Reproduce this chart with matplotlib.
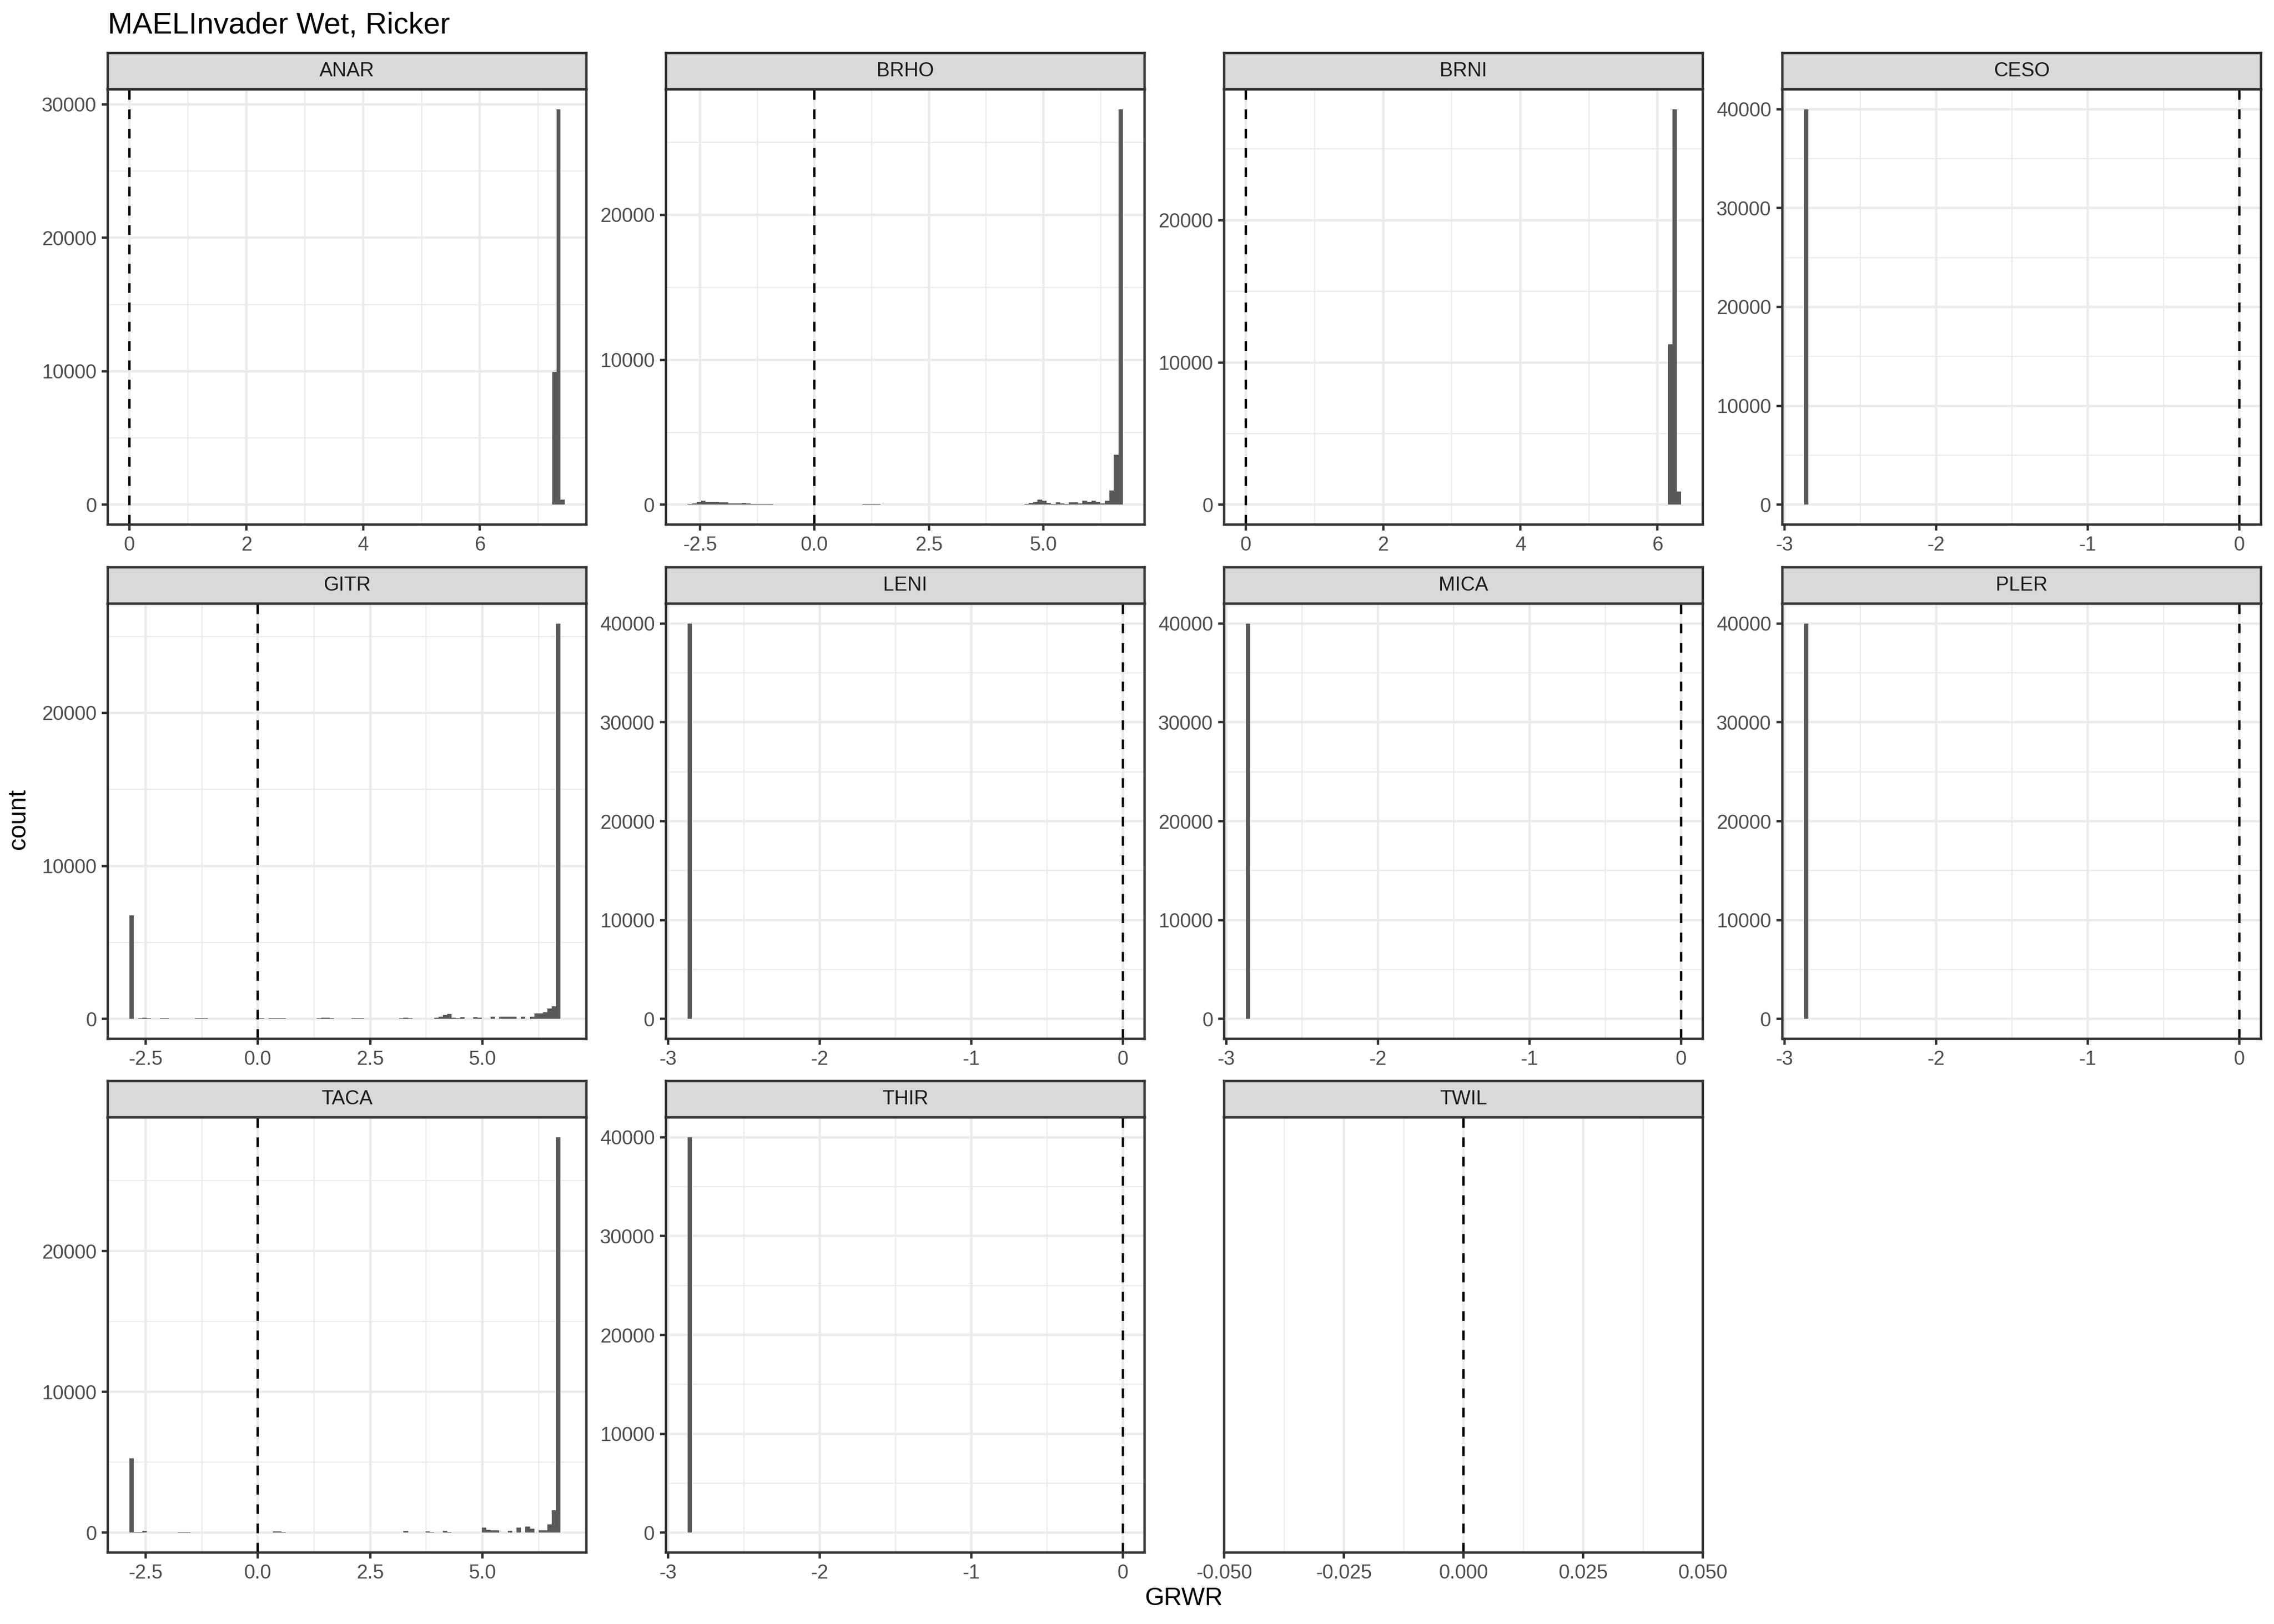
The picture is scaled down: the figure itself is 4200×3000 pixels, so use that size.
import numpy as np
import matplotlib
matplotlib.use("Agg")
import matplotlib.pyplot as plt

plt.rcParams['font.family'] = ['Liberation Sans', 'DejaVu Sans']
plt.rcParams['axes.unicode_minus'] = False

# ---------------- data ----------------
title = "MAELInvader Wet, Ricker"
species = ['ANAR', 'BRHO', 'BRNI', 'CESO', 'GITR', 'LENI',
           'MICA', 'PLER', 'TACA', 'THIR', 'TWIL']

# histogram of GRWR per species: left edge of first bin, bin width, counts
anar_start, anar_width = 7.24, 0.07
anar_counts = [9950, 29650, 400]

brho_start, brho_width = -2.77, 0.098
brho_counts = [40, 90, 190, 275, 210, 210, 210, 160, 150, 110, 100, 100, 125, 90, 60,
               50, 45, 40, 40, 35, 35, 30, 30, 25, 25, 20, 20, 20,
               15, 15, 15, 15, 15, 15, 20, 25, 25, 30, 35, 40, 40,
               40, 40, 35, 35, 30, 30, 25, 20, 20, 20,
               15, 15, 15, 15, 20, 20, 25, 25, 20, 15, 15, 10, 10, 10, 5, 5, 5, 5, 5, 5, 5, 10,
               10,
               25, 60, 125, 190, 350, 275, 125, 60, 150, 110, 50, 150, 150, 90, 260, 210,
               260, 210, 90, 260, 1000, 3440, 27300]

brni_start, brni_width = 6.155, 0.063
brni_counts = [11260, 27800, 930]

gitr_start, gitr_width = -2.86, 0.0969
gitr_counts = [6770,
               20, 60, 80, 50, 10, 10, 40, 40, 30,
               5, 5, 5, 5,
               30, 35, 35, 35, 30, 10,
               3, 3, 3, 3, 3, 3, 3, 3,
               20, 35, 35, 30, 35, 40, 35, 35, 15,
               5, 5, 5, 5, 5,
               30, 50, 70, 70, 50, 20,
               5, 5,
               25, 45, 45, 40, 10,
               3, 3, 3, 3, 3, 3,
               20, 40, 100, 40, 10,
               3, 3, 3, 3,
               80, 175, 260, 320, 80, 60, 130, 5, 5, 105,
               70, 5, 5, 165, 10, 175, 175, 175, 175, 5,
               175, 5, 175, 365, 365, 425, 680, 835,
               25850, 10]

taca_start, taca_width = -2.86, 0.0969
taca_counts = [5290,
               40, 40, 115,
               3, 3, 3, 3, 3, 3,
               20, 40, 60, 40, 10,
               3, 3, 3, 3, 3, 3, 3, 3, 3, 3, 3, 3, 3, 3, 3, 3, 3,
               20, 100, 100, 60, 10,
               3, 3, 3, 3, 3, 3, 3, 3, 3, 3, 3, 3, 3, 3, 3, 3, 3, 3, 3, 3, 3, 3, 3, 3, 3,
               20, 115, 20,
               3, 3,
               20, 100, 60,
               3,
               20, 115, 60,
               3, 3, 3, 3, 3, 3,
               5,
               360, 200, 190, 190,
               5,
               20, 140,
               5,
               360, 5, 450, 295, 5,
               190, 190, 575, 1610, 28100, 5]

# species whose GRWR is a single value near -2.87
single_start, single_width = -2.87, 0.027
single_counts = [40000]

# x ticks and their labels
xt_int = [0, 2, 4, 6]
xl_int = ['0', '2', '4', '6']
xt_half = [-2.5, 0.0, 2.5, 5.0]
xl_half = ['-2.5', '0.0', '2.5', '5.0']
xt_neg = [-3, -2, -1, 0]
xl_neg = ['-3', '-2', '-1', '0']
xt_twil = [-0.05, -0.025, 0.0, 0.025, 0.05]
xl_twil = ['-0.050', '-0.025', '0.000', '0.025', '0.050']

hists = {
    'ANAR': (anar_start, anar_width, anar_counts, xt_int, xl_int),
    'BRHO': (brho_start, brho_width, brho_counts, xt_half, xl_half),
    'BRNI': (brni_start, brni_width, brni_counts, xt_int, xl_int),
    'CESO': (single_start, single_width, single_counts, xt_neg, xl_neg),
    'GITR': (gitr_start, gitr_width, gitr_counts, xt_half, xl_half),
    'LENI': (single_start, single_width, single_counts, xt_neg, xl_neg),
    'MICA': (single_start, single_width, single_counts, xt_neg, xl_neg),
    'PLER': (single_start, single_width, single_counts, xt_neg, xl_neg),
    'TACA': (taca_start, taca_width, taca_counts, xt_half, xl_half),
    'THIR': (single_start, single_width, single_counts, xt_neg, xl_neg),
}

# ---------------- layout (pixels of a 4200x3000 canvas) ----------------
W, H = 4200, 3000
col_x = [199, 1230, 2261, 3292]
row_top = [165, 1115, 2064]
pw, ph, sh = 884, 804, 67

grid_col = '#EBEBEB'
frame_col = '#333333'
lw_major = 1.07

fig = plt.figure(figsize=(14, 10), dpi=300)


def minor_between(major, lo, hi):
    step = major[1] - major[0]
    cand = np.arange(major[0] - step / 2, major[-1] + step, step)
    return [v for v in cand if lo <= v <= hi]


for i, name in enumerate(species):
    r, c = divmod(i, 4)
    left = col_x[c] / W
    ax = fig.add_axes([left, 1 - (row_top[r] + ph) / H, pw / W, ph / H])
    sax = fig.add_axes([left, 1 - row_top[r] / H, pw / W, sh / H])

    # strip
    sax.set_facecolor('#D9D9D9')
    sax.set_xticks([])
    sax.set_yticks([])
    for sp in sax.spines.values():
        sp.set_color(frame_col)
        sp.set_linewidth(lw_major)
    sax.text(0.5, 0.5, name, ha='center', va='center', fontsize=8.8,
             color='#1A1A1A', transform=sax.transAxes)

    if name in hists:
        start, width, counts, xt, xl = hists[name]
        counts = np.array(counts, dtype=float)
        lefts = start + width * np.arange(len(counts))
        ax.bar(lefts, counts, width=width, align='edge', color='#595959',
               linewidth=0, zorder=2)
        lo = min(start, 0.0)
        hi = max(start + width * len(counts), 0.0)
        pad = 0.05 * (hi - lo)
        ax.set_xlim(lo - pad, hi + pad)
        top = counts.max()
        ax.set_ylim(-0.05 * top, 1.05 * top)
        yt = np.arange(0, 1.05 * top, 10000)
        ax.set_yticks(yt, [str(int(v)) for v in yt])
        ax.set_yticks(minor_between(list(yt), -0.05 * top, 1.05 * top), minor=True)
        xlo, xhi = lo - pad, hi + pad
    else:
        xt, xl = xt_twil, xl_twil
        xlo, xhi = -0.05, 0.05
        ax.set_xlim(xlo, xhi)
        ax.set_ylim(0, 1)
        ax.set_yticks([])

    ax.set_xticks(xt, xl)
    ax.set_xticks(minor_between(xt, xlo, xhi), minor=True)

    ax.set_axisbelow(True)
    if name in hists:
        ax.grid(True, which='major', color=grid_col, lw=lw_major, zorder=0)
        ax.grid(True, which='minor', color=grid_col, lw=lw_major / 2, zorder=0)
    else:
        ax.grid(True, which='major', axis='x', color=grid_col, lw=lw_major, zorder=0)
        ax.grid(True, which='minor', axis='x', color=grid_col, lw=lw_major / 2, zorder=0)

    ax.axvline(0, color='black', lw=lw_major, ls=(0, (4, 4)), zorder=3)

    ax.tick_params(which='major', direction='out', length=2.75, width=lw_major,
                   color=frame_col, labelsize=8.8, labelcolor='#4D4D4D', pad=2.2)
    ax.tick_params(which='minor', length=0)
    for sp in ax.spines.values():
        sp.set_color(frame_col)
        sp.set_linewidth(lw_major)
        sp.set_zorder(4)

fig.text(199 / W, 1 - 62 / H, title, fontsize=13.2, ha='left', va='baseline')
fig.text(2187 / W, 1 - 2953 / H, 'GRWR', fontsize=11, ha='center', va='center')
fig.text(34 / W, 1 - 1513 / H, 'count', fontsize=11, ha='center', va='center',
         rotation=90)

fig.savefig('out.png', dpi=300, facecolor='white')
